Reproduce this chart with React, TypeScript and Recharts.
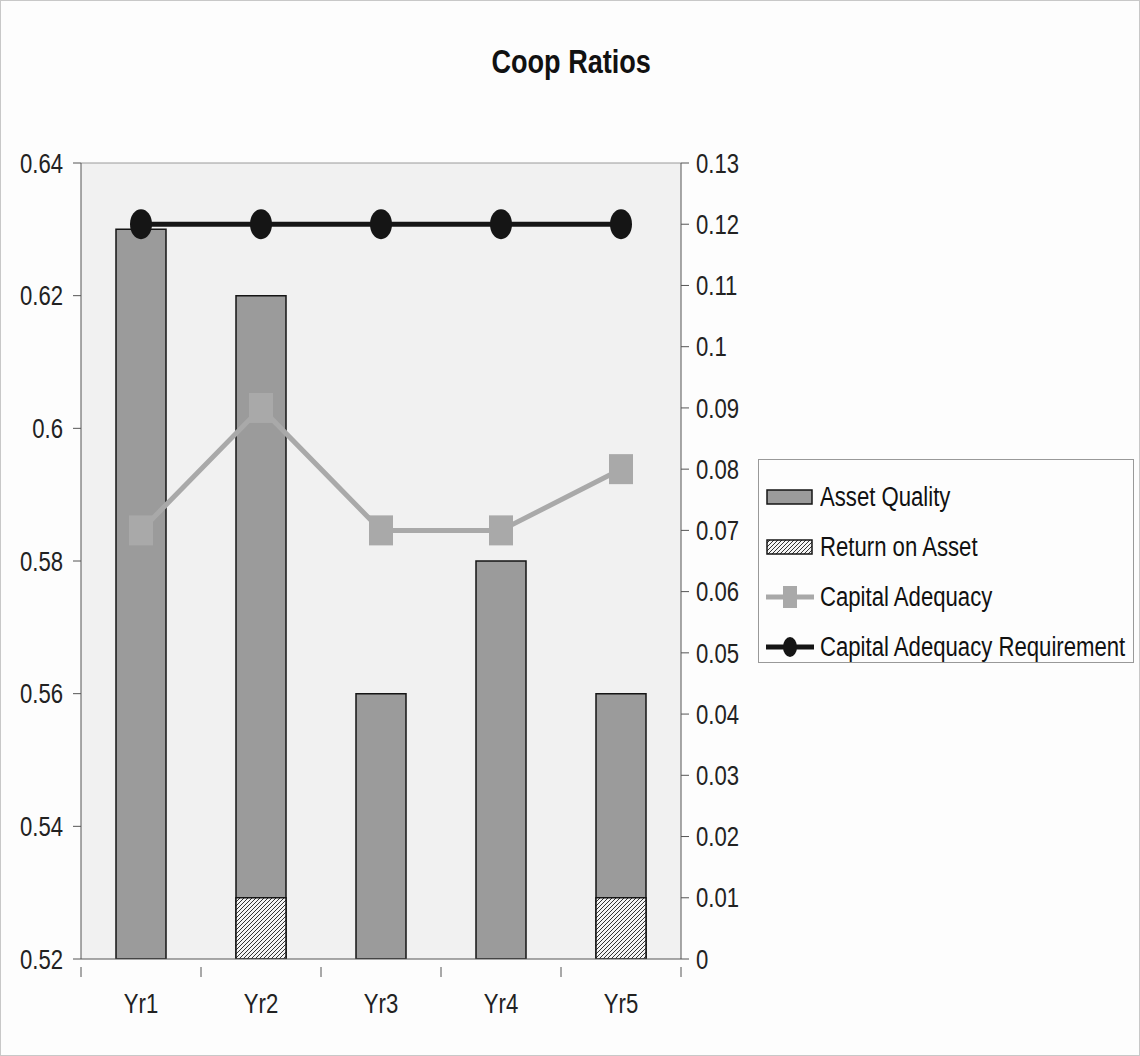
import { ComposedChart, Bar, Line, XAxis, YAxis, CartesianGrid, ReferenceLine } from "recharts";

const years = ["Yr1", "Yr2", "Yr3", "Yr4", "Yr5"];
const assetQuality = [0.63, 0.62, 0.56, 0.58, 0.56];
const returnOnAsset = [0, 0.01, 0, 0, 0.01];
const capitalAdequacy = [0.07, 0.09, 0.07, 0.07, 0.08];
const capitalRequirement = [0.12, 0.12, 0.12, 0.12, 0.12];
const leftTicks = [0.52, 0.54, 0.56, 0.58, 0.6, 0.62, 0.64];
const rightTicks = [0, 0.01, 0.02, 0.03, 0.04, 0.05, 0.06, 0.07, 0.08, 0.09, 0.1, 0.11, 0.12, 0.13];
const seriesNames = ["Asset Quality", "Return on Asset", "Capital Adequacy", "Capital Adequacy Requirement"];

const data = years.map((year, i) => ({
  year,
  assetQuality: assetQuality[i],
  returnOnAsset: returnOnAsset[i],
  capitalAdequacy: capitalAdequacy[i],
  capitalRequirement: capitalRequirement[i],
}));

// Arial Narrow look-alike: Liberation Sans squeezed horizontally
const FONT = "'Liberation Sans', Arial, sans-serif";
const NARROW = 0.82;
const BAR_GRAY = "#9b9b9b";
const LINE_GRAY = "#a9a9a9";
const INK = "#151515";

function SquareDot(props: any) {
  const { cx, cy } = props;
  if (cx == null || cy == null) return null;
  return <rect x={cx - 12} y={cy - 15} width={24} height={30} fill={LINE_GRAY} />;
}

function EllipseDot(props: any) {
  const { cx, cy } = props;
  if (cx == null || cy == null) return null;
  return <ellipse cx={cx} cy={cy} rx={11} ry={15} fill={INK} />;
}

function NarrowTick(props: any) {
  const { x, y, payload, textAnchor } = props;
  return (
    <g transform={`translate(${x},${y})`}>
      <text
        transform={`scale(${NARROW},1)`}
        textAnchor={textAnchor}
        dy="0.36em"
        fill="#222"
        fontSize={27}
        fontFamily={FONT}
      >
        {String(payload.value)}
      </text>
    </g>
  );
}

function YearTick(props: any) {
  const { x, y, payload, index } = props;
  const half = payload.offset || 60;
  return (
    <g>
      <line x1={x - half} x2={x - half} y1={y} y2={y + 10} stroke="#555" />
      {index === years.length - 1 && (
        <line x1={x + half} x2={x + half} y1={y} y2={y + 10} stroke="#555" />
      )}
      <g transform={`translate(${x},${y + 46})`}>
        <text transform={`scale(${NARROW},1)`} textAnchor="middle" fill="#222" fontSize={27} fontFamily={FONT}>
          {payload.value}
        </text>
      </g>
    </g>
  );
}

function LegendIcon({ i }: { i: number }) {
  const box = { flexShrink: 0 };
  if (i === 0)
    return (
      <svg width={48} height={22} style={box}>
        <rect x={1} y={4} width={45} height={14} fill={BAR_GRAY} stroke={INK} strokeWidth={1.5} />
      </svg>
    );
  if (i === 1)
    return (
      <svg width={48} height={22} style={box}>
        <rect x={1} y={4} width={45} height={14} fill="url(#hatchLegend)" stroke={INK} strokeWidth={1.5} />
      </svg>
    );
  if (i === 2)
    return (
      <svg width={48} height={22} style={box}>
        <line x1={0} x2={48} y1={11} y2={11} stroke={LINE_GRAY} strokeWidth={5} />
        <rect x={17} y={0} width={14} height={22} fill={LINE_GRAY} />
      </svg>
    );
  return (
    <svg width={48} height={22} style={box}>
      <line x1={0} x2={48} y1={11} y2={11} stroke={INK} strokeWidth={5} />
      <ellipse cx={24} cy={11} rx={7} ry={10} fill={INK} />
    </svg>
  );
}

export default function App() {
  return (
    <div
      style={{
        position: "absolute",
        left: 0,
        top: 0,
        width: 1140,
        height: 1056,
        background: "#fdfdfd",
        border: "1px solid #c8c8c8",
        boxSizing: "border-box",
        fontFamily: FONT,
      }}
    >
      <svg width={0} height={0} style={{ position: "absolute" }}>
        <defs>
          <pattern id="hatchLegend" patternUnits="userSpaceOnUse" width={4} height={4}>
            <rect width={4} height={4} fill="#f4f4f4" />
            <path d="M-1,1 l2,-2 M0,4 l4,-4 M3,5 l2,-2" stroke="#333" strokeWidth={1} />
          </pattern>
        </defs>
      </svg>

      <div
        style={{
          position: "absolute",
          top: 42,
          left: 0,
          width: 1140,
          textAlign: "center",
        }}
      >
        <span
          style={{
            display: "inline-block",
            fontSize: 33,
            fontWeight: "bold",
            color: "#111",
            transform: `scaleX(${NARROW})`,
          }}
        >
          Coop Ratios
        </span>
      </div>

      <div style={{ position: "absolute", left: 0, top: 0 }}>
        <ComposedChart
          width={1138}
          height={1054}
          data={data}
          margin={{ top: 162, right: 378, bottom: 36, left: 0 }}
        >
          <defs>
            <pattern id="hatch" patternUnits="userSpaceOnUse" width={4} height={4}>
              <rect width={4} height={4} fill="#f4f4f4" />
              <path d="M-1,1 l2,-2 M0,4 l4,-4 M3,5 l2,-2" stroke="#333" strokeWidth={1} />
            </pattern>
          </defs>
          <CartesianGrid xAxisId="main" yAxisId="left" fill="#f1f1f1" horizontal={false} vertical={false} />
          <XAxis
            xAxisId="main"
            dataKey="year"
            height={60}
            axisLine={{ stroke: "#555" }}
            tickLine={false}
            tick={<YearTick />}
            interval={0}
          />
          <XAxis xAxisId="roa" dataKey="year" hide />
          <YAxis
            yAxisId="left"
            domain={[0.52, 0.64]}
            ticks={leftTicks}
            width={80}
            tickSize={8}
            tickMargin={10}
            axisLine={{ stroke: "#555" }}
            tickLine={{ stroke: "#555" }}
            tick={<NarrowTick />}
            allowDataOverflow
          />
          <YAxis
            yAxisId="right"
            orientation="right"
            domain={[0, 0.13]}
            ticks={rightTicks}
            width={80}
            tickSize={8}
            tickMargin={7}
            axisLine={{ stroke: "#555" }}
            tickLine={{ stroke: "#555" }}
            tick={<NarrowTick />}
            allowDataOverflow
          />
          <ReferenceLine xAxisId="main" yAxisId="left" y={0.64} stroke="#9a9a9a" />
          <Bar
            xAxisId="main"
            yAxisId="left"
            dataKey="assetQuality"
            name={seriesNames[0]}
            fill={BAR_GRAY}
            stroke={INK}
            strokeWidth={1.5}
            barSize={50}
            isAnimationActive={false}
          />
          <Bar
            xAxisId="roa"
            yAxisId="right"
            dataKey="returnOnAsset"
            name={seriesNames[1]}
            fill="url(#hatch)"
            stroke={INK}
            strokeWidth={1.5}
            barSize={50}
            isAnimationActive={false}
          />
          <Line
            xAxisId="main"
            yAxisId="right"
            dataKey="capitalAdequacy"
            name={seriesNames[2]}
            stroke={LINE_GRAY}
            strokeWidth={5}
            dot={<SquareDot />}
            activeDot={false}
            isAnimationActive={false}
          />
          <Line
            xAxisId="main"
            yAxisId="right"
            dataKey="capitalRequirement"
            name={seriesNames[3]}
            stroke={INK}
            strokeWidth={5}
            dot={<EllipseDot />}
            activeDot={false}
            isAnimationActive={false}
          />
        </ComposedChart>
      </div>

      <div
        style={{
          position: "absolute",
          left: 757,
          top: 458,
          width: 376,
          height: 204,
          border: "1px solid #999",
          boxSizing: "border-box",
          background: "#fdfdfd",
          padding: "12px 0 0 7px",
        }}
      >
        {seriesNames.map((name, i) => (
          <div key={name} style={{ display: "flex", alignItems: "center", height: 50 }}>
            <LegendIcon i={i} />
            <span
              style={{
                marginLeft: 6,
                fontSize: 27,
                color: "#111",
                whiteSpace: "nowrap",
                display: "inline-block",
                transform: `scaleX(${NARROW})`,
                transformOrigin: "left center",
              }}
            >
              {name}
            </span>
          </div>
        ))}
      </div>
    </div>
  );
}
